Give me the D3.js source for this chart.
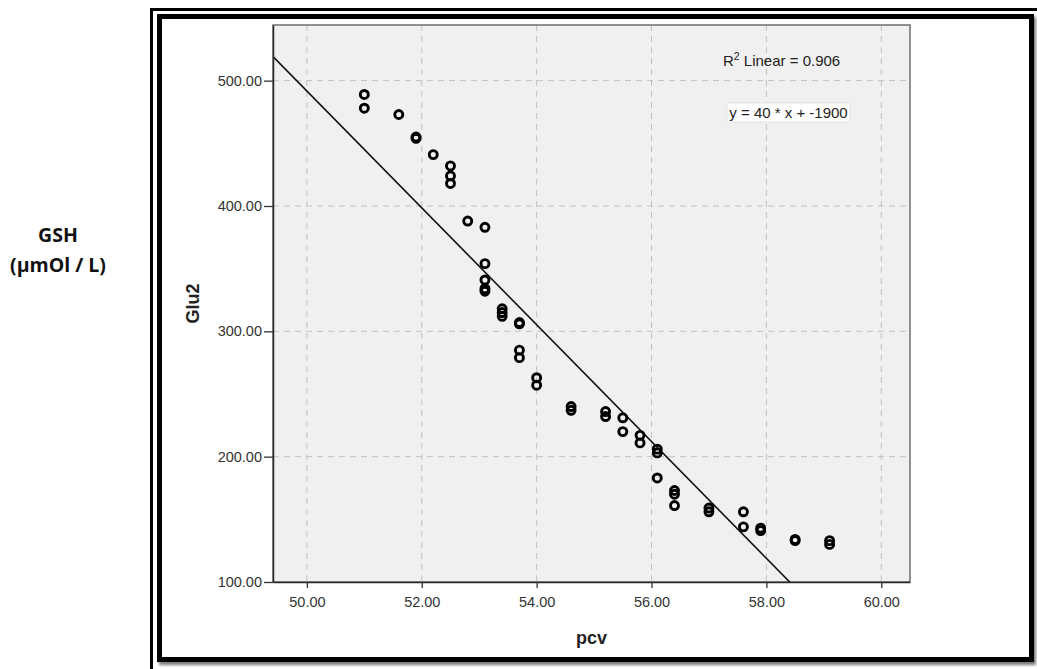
<!DOCTYPE html>
<html>
<head>
<meta charset="utf-8">
<script src="https://cdn.jsdelivr.net/npm/d3@7"></script>
<style>
  html, body { margin: 0; padding: 0; background: #fff; }
  svg { display: block; }
</style>
</head>
<body>
<svg id="chart" width="1037" height="669"></svg>
<script>
// Packed cell volume (pcv) against Glu2 for each subject
const pcv = [
  51.0, 51.0, 51.6, 51.9, 51.9, 52.2, 52.5, 52.5, 52.5, 52.8,
  53.1, 53.1, 53.1, 53.1, 53.1, 53.4, 53.4, 53.4, 53.7, 53.7,
  53.7, 53.7, 54.0, 54.0, 54.6, 54.6, 55.2, 55.2, 55.5, 55.5,
  55.8, 55.8, 56.1, 56.1, 56.1, 56.4, 56.4, 56.4, 57.0, 57.0,
  57.6, 57.6, 57.9, 57.9, 58.5, 58.5, 59.1, 59.1
];
const glu2 = [
  489, 478, 473, 455, 454, 441, 432, 424, 418, 388,
  383, 354, 341, 334, 332, 318, 315, 312, 307, 306,
  285, 279, 263, 257, 240, 237, 236, 232, 231, 220,
  217, 211, 206, 203, 183, 173, 170, 161, 159, 156,
  156, 144, 143, 141, 134, 133, 133, 130
];
const xTickValues = [50, 52, 54, 56, 58, 60];
const yTickValues = [100, 200, 300, 400, 500];
// fitted line: intercept, slope
const fitCoefficients = [2821.7, -46.6];
const rSquaredLabel = ["0.906"];
const equationLabel = ["y = 40 * x + -1900"];

const svg = d3.select("#chart");
const W = 1037, H = 669;
const plot = { left: 273, top: 25, right: 910, bottom: 582 };

const x = d3.scaleLinear().domain([49.41, 60.5]).range([plot.left, plot.right]);
const y = d3.scaleLinear().domain([100, 544.4]).range([plot.bottom, plot.top]);

const defs = svg.append("defs");
defs.append("filter").attr("id", "soft")
  .attr("x", "-5%").attr("y", "-5%").attr("width", "110%").attr("height", "110%")
  .append("feGaussianBlur").attr("stdDeviation", 1.6);
defs.append("clipPath").attr("id", "plotClip")
  .append("rect")
  .attr("x", plot.left).attr("y", plot.top)
  .attr("width", plot.right - plot.left).attr("height", plot.bottom - plot.top);

svg.append("rect").attr("width", W).attr("height", H).attr("fill", "#fff");

// double frame: thin outer rule and heavy inner box with a soft shadow
svg.append("rect")
  .attr("x", 151.5).attr("y", 9.5).attr("width", 1000).attr("height", 800)
  .attr("fill", "none").attr("stroke", "#000").attr("stroke-width", 3);
svg.append("rect")
  .attr("x", 161.5).attr("y", 19.5).attr("width", 872).attr("height", 643)
  .attr("fill", "none").attr("stroke", "#777").attr("stroke-width", 5)
  .attr("filter", "url(#soft)");
svg.append("rect")
  .attr("x", 159.5).attr("y", 16.5).attr("width", 872).attr("height", 643)
  .attr("fill", "#fff").attr("stroke", "#000").attr("stroke-width", 5);

// side label
const side = svg.append("text")
  .attr("text-anchor", "middle")
  .attr("font-family", "'Open Sans', 'Noto Sans', sans-serif")
  .attr("font-weight", "bold").attr("font-size", 19.5).attr("fill", "#111");
side.append("tspan").attr("x", 58).attr("y", 242).text("GSH");
side.append("tspan").attr("x", 58).attr("y", 272).text("(µmOl / L)");

// plot background
svg.append("rect")
  .attr("x", plot.left).attr("y", plot.top)
  .attr("width", plot.right - plot.left).attr("height", plot.bottom - plot.top)
  .attr("fill", "#f0f0f0");

// dashed gridlines
const grid = svg.append("g").attr("stroke", "#c2c2c2").attr("stroke-width", 1)
  .attr("stroke-dasharray", "6,5");
grid.selectAll("line.gx").data(xTickValues).join("line").attr("class", "gx")
  .attr("x1", d => x(d)).attr("x2", d => x(d))
  .attr("y1", plot.top).attr("y2", plot.bottom);
grid.selectAll("line.gy").data(yTickValues.filter(v => v > 100)).join("line").attr("class", "gy")
  .attr("x1", plot.left).attr("x2", plot.right)
  .attr("y1", d => y(d)).attr("y2", d => y(d));

// plot box
svg.append("rect")
  .attr("x", plot.left).attr("y", plot.top)
  .attr("width", plot.right - plot.left).attr("height", plot.bottom - plot.top)
  .attr("fill", "none").attr("stroke", "#6e6e6e").attr("stroke-width", 1.5);

// fitted line
const fy = v => fitCoefficients[0] + fitCoefficients[1] * v;
const xd = x.domain();
svg.append("line")
  .attr("clip-path", "url(#plotClip)")
  .attr("x1", x(xd[0])).attr("y1", y(fy(xd[0])))
  .attr("x2", x(xd[1])).attr("y2", y(fy(xd[1])))
  .attr("stroke", "#111").attr("stroke-width", 1.6);

// points
svg.append("g").selectAll("circle").data(pcv.map((p, i) => [p, glu2[i]])).join("circle")
  .attr("cx", d => x(d[0])).attr("cy", d => y(d[1]))
  .attr("r", 4)
  .attr("fill", "none").attr("stroke", "#000").attr("stroke-width", 2.9);

// axes
const fmt = d3.format(".2f");
const yAxis = svg.append("g").attr("transform", `translate(${plot.left},0)`)
  .call(d3.axisLeft(y).tickValues(yTickValues).tickFormat(fmt)
    .tickSizeInner(9).tickSizeOuter(0).tickPadding(2));
const xAxis = svg.append("g").attr("transform", `translate(0,${plot.bottom})`)
  .call(d3.axisBottom(x).tickValues(xTickValues).tickFormat(fmt)
    .tickSizeInner(6).tickSizeOuter(0).tickPadding(9));
[yAxis, xAxis].forEach(a => {
  a.select(".domain").attr("stroke", "#2a2a2a").attr("stroke-width", 1.5);
  a.selectAll(".tick line").attr("stroke", "#333").attr("stroke-width", 1.3);
  a.selectAll(".tick text")
    .attr("font-family", "'Liberation Sans', Arial, sans-serif")
    .attr("font-size", 14.5).attr("fill", "#333");
});

// axis titles
svg.append("text")
  .attr("transform", `translate(199,${(plot.top + plot.bottom) / 2}) rotate(-90)`)
  .attr("text-anchor", "middle")
  .attr("font-family", "'Liberation Sans', Arial, sans-serif")
  .attr("font-weight", "bold").attr("font-size", 18).attr("fill", "#222")
  .text("Glu2");
svg.append("text")
  .attr("x", (plot.left + plot.right) / 2).attr("y", 644)
  .attr("text-anchor", "middle")
  .attr("font-family", "'Liberation Sans', Arial, sans-serif")
  .attr("font-weight", "bold").attr("font-size", 18).attr("fill", "#222")
  .text("pcv");

// fit annotations
const r2 = svg.append("text")
  .attr("x", 723).attr("y", 66)
  .attr("font-family", "'Liberation Sans', Arial, sans-serif")
  .attr("font-size", 15).attr("fill", "#222");
r2.append("tspan").text("R");
r2.append("tspan").attr("dy", -6).attr("font-size", 10.5).text("2");
r2.append("tspan").attr("dy", 6).text(" Linear = " + rSquaredLabel[0]);

svg.append("rect")
  .attr("x", 727).attr("y", 103).attr("width", 123).attr("height", 19)
  .attr("fill", "#fff").attr("stroke", "#dcdcdc").attr("stroke-width", 0.8);
svg.append("text")
  .attr("x", 788.5).attr("y", 118)
  .attr("text-anchor", "middle")
  .attr("font-family", "'Liberation Sans', Arial, sans-serif")
  .attr("font-size", 15).attr("fill", "#222")
  .text(equationLabel[0]);
</script>
</body>
</html>
